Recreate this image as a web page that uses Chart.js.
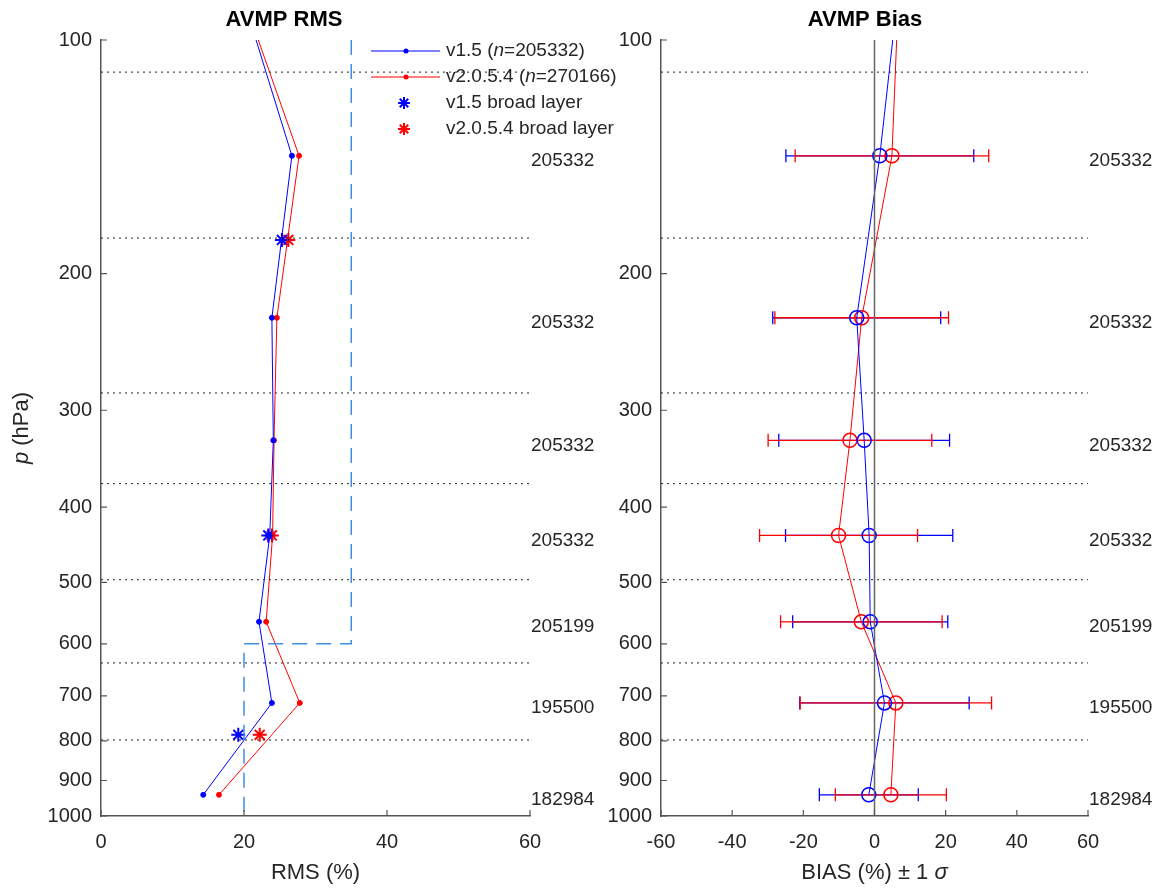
<!DOCTYPE html>
<html>
<head>
<meta charset="utf-8">
<script src="https://cdn.jsdelivr.net/npm/chart.js@4.4.1/dist/chart.umd.min.js"></script>
<style>
  body { margin: 0; background: #fff; width: 1153px; height: 892px; overflow: hidden; position: relative; }
  #rms { position: absolute; left: 0; top: 0; z-index: 2; }
  #bias { position: absolute; left: 576px; top: 0; z-index: 1; }
</style>
</head>
<body>
<canvas id="bias" width="577" height="892"></canvas>
<canvas id="rms" width="640" height="892"></canvas>
<script>
// pressure levels (hPa) of the layer points; the first one sits above the plotted range
const pLevels = [74, 141, 228, 328, 435, 562, 715, 939];
const counts = ['', '205332', '205332', '205332', '205332', '205199', '195500', '182984'];

const rmsV15 = [17.3, 26.7, 23.9, 24.1, 23.6, 22.1, 23.9, 14.3];
const rmsV2054 = [17.0, 27.7, 24.6, 24.2, 24.0, 23.1, 27.8, 16.5];

const pBroad = [181, 435, 786];
const broadV15 = [25.3, 23.4, 19.2];
const broadV2054 = [26.2, 23.9, 22.2];

const biasV15 = [8.3, 1.5, -5.0, -2.9, -1.5, -1.2, 2.8, -1.6];
const biasV2054 = [7.4, 4.9, -3.6, -6.9, -10.1, -3.7, 6.0, 4.6];
const sigmaV15 = [null, 26.4, 23.6, 24.0, 23.5, 21.8, 23.8, 13.9];
const sigmaV2054 = [null, 27.2, 24.4, 23.0, 22.2, 22.7, 26.9, 15.6];

// layer boundaries (dotted lines)
const pBounds = [110, 180, 285, 373, 496, 635, 798];

// requirement line on the RMS panel
const reqP = [100, 600, 600, 1000];
const reqX = [35, 35, 20, 20];

const yTicks = [100, 200, 300, 400, 500, 600, 700, 800, 900, 1000];

const FONT = "'Liberation Sans', Arial, sans-serif";
const TXT = '#262626';
const AXIS = '#555';
const BLUE = '#0000ff';
const RED = '#ff0000';

function pts(xs, ps) {
  return xs.map((v, i) => ({ x: v, y: ps[i] }));
}

function boundSets(xmin, xmax) {
  return pBounds.map(p => ({
    data: [{ x: xmin, y: p }, { x: xmax, y: p }],
    borderColor: '#222', borderWidth: 1, borderDash: [2, 4],
    pointRadius: 0, showLine: true
  }));
}

function scalesFor(xmin, xmax, yWidth) {
  return {
    x: {
      type: 'linear', min: xmin, max: xmax,
      ticks: { stepSize: 20, color: TXT, font: { family: FONT, size: 20 }, padding: 14 },
      grid: { drawOnChartArea: false, drawTicks: false },
      border: { color: AXIS, width: 1.5 },
      afterFit: s => { s.height = 76; }
    },
    y: {
      type: 'logarithmic', reverse: true, min: 100, max: 1000,
      afterBuildTicks: s => { s.ticks = yTicks.map(v => ({ value: v })); },
      ticks: { color: TXT, font: { family: FONT, size: 20 }, padding: 9, callback: v => String(v) },
      grid: { drawOnChartArea: false, drawTicks: false },
      border: { color: AXIS, width: 1.5 },
      afterFit: s => { s.width = yWidth; }
    }
  };
}

function drawRich(ctx, parts, x, y, size, align) {
  let w = 0;
  parts.forEach(p => { ctx.font = (p[1] ? 'italic ' : '') + size + 'px ' + FONT; w += ctx.measureText(p[0]).width; });
  let cx = align === 'center' ? x - w / 2 : x;
  ctx.textAlign = 'left';
  parts.forEach(p => {
    ctx.font = (p[1] ? 'italic ' : '') + size + 'px ' + FONT;
    ctx.fillText(p[0], cx, y);
    cx += ctx.measureText(p[0]).width;
  });
}

function decor(cfg) {
  return {
    id: 'decor_' + cfg.name,
    beforeDatasetsDraw(chart) {
      if (!cfg.errors) return;
      const { ctx, scales: { x, y } } = chart;
      ctx.save();
      ctx.lineWidth = 1.3;
      cfg.errors.forEach(e => {
        ctx.strokeStyle = e.color;
        e.bias.forEach((b, i) => {
          const s = e.sigma[i];
          if (s == null) return;
          const py = y.getPixelForValue(pLevels[i]);
          const x1 = x.getPixelForValue(b - s), x2 = x.getPixelForValue(b + s);
          ctx.beginPath();
          ctx.moveTo(x1, py); ctx.lineTo(x2, py);
          ctx.moveTo(x1, py - 6.5); ctx.lineTo(x1, py + 6.5);
          ctx.moveTo(x2, py - 6.5); ctx.lineTo(x2, py + 6.5);
          ctx.stroke();
        });
      });
      ctx.restore();
    },
    afterDraw(chart) {
      const { ctx, chartArea: a, scales: { x, y } } = chart;
      ctx.save();
      // inward ticks
      ctx.strokeStyle = AXIS; ctx.lineWidth = 1.2;
      ctx.beginPath();
      x.ticks.forEach(t => { const px = x.getPixelForValue(t.value); ctx.moveTo(px, a.bottom); ctx.lineTo(px, a.bottom - 6); });
      y.ticks.forEach(t => { const py = y.getPixelForValue(t.value); ctx.moveTo(a.left, py); ctx.lineTo(a.left + 6, py); });
      ctx.stroke();

      ctx.fillStyle = TXT;
      ctx.textBaseline = 'middle';
      // sample counts
      ctx.font = '19px ' + FONT;
      ctx.textAlign = 'left';
      counts.forEach((c, i) => {
        if (!c) return;
        ctx.fillText(c, a.right + 1, y.getPixelForValue(pLevels[i]) + 5);
      });
      // title
      ctx.font = 'bold 22px ' + FONT;
      ctx.textAlign = 'center';
      ctx.fillStyle = '#000';
      ctx.fillText(cfg.title, cfg.titleX, 20);
      // x axis title
      ctx.fillStyle = TXT;
      drawRich(ctx, cfg.xTitle, (a.left + a.right) / 2, 873, 22, 'center');
      // y axis title
      if (cfg.yTitle) {
        ctx.save();
        ctx.translate(22, (a.top + a.bottom) / 2);
        ctx.rotate(-Math.PI / 2);
        drawRich(ctx, cfg.yTitle, 0, 0, 22, 'center');
        ctx.restore();
      }
      // legend
      if (cfg.legend) {
        cfg.legend.forEach((l, i) => {
          const ly = 51 + i * 26;
          if (l.kind === 'line') {
            ctx.strokeStyle = l.color; ctx.lineWidth = 1;
            ctx.beginPath(); ctx.moveTo(371, ly); ctx.lineTo(440, ly); ctx.stroke();
            ctx.fillStyle = l.color;
            ctx.beginPath(); ctx.arc(406, ly, 2.5, 0, Math.PI * 2); ctx.fill();
          } else {
            ctx.strokeStyle = l.color; ctx.lineWidth = 2;
            const r = 6;
            ctx.beginPath();
            for (let k = 0; k < 4; k++) {
              const ang = k * Math.PI / 4;
              ctx.moveTo(404 - r * Math.cos(ang), ly - r * Math.sin(ang));
              ctx.lineTo(404 + r * Math.cos(ang), ly + r * Math.sin(ang));
            }
            ctx.stroke();
          }
          ctx.fillStyle = TXT;
          drawRich(ctx, l.text, 446, ly, 19, 'left');
        });
      }
      ctx.restore();
    }
  };
}

new Chart(document.getElementById('rms'), {
  type: 'scatter',
  data: {
    datasets: [
      ...boundSets(0, 60),
      { data: pts(reqX, reqP), showLine: true, borderColor: '#3d8ee6', borderWidth: 1.5, borderDash: [15, 9], pointRadius: 0 },
      { label: 'v1.5', data: pts(rmsV15, pLevels), showLine: true, borderColor: BLUE, backgroundColor: BLUE, borderWidth: 1, pointRadius: 2.5 },
      { label: 'v2.0.5.4', data: pts(rmsV2054, pLevels), showLine: true, borderColor: RED, backgroundColor: RED, borderWidth: 1, pointRadius: 2.5 },
      { label: 'v1.5 broad layer', data: pts(broadV15, pBroad), pointStyle: 'star', pointRadius: 7, borderColor: BLUE, borderWidth: 2 },
      { label: 'v2.0.5.4 broad layer', data: pts(broadV2054, pBroad), pointStyle: 'star', pointRadius: 7, borderColor: RED, borderWidth: 2 }
    ]
  },
  options: {
    responsive: false, animation: false,
    layout: { padding: { top: 40, right: 110, left: 0, bottom: 0 } },
    plugins: { legend: { display: false }, tooltip: { enabled: false } },
    scales: scalesFor(0, 60, 101)
  },
  plugins: [decor({
    name: 'rms', title: 'AVMP RMS', titleX: 284,
    xTitle: [['RMS (%)', false]],
    yTitle: [['p', true], [' (hPa)', false]],
    legend: [
      { kind: 'line', color: BLUE, text: [['v1.5 (', false], ['n', true], ['=205332)', false]] },
      { kind: 'line', color: RED, text: [['v2.0.5.4 (', false], ['n', true], ['=270166)', false]] },
      { kind: 'star', color: BLUE, text: [['v1.5 broad layer', false]] },
      { kind: 'star', color: RED, text: [['v2.0.5.4 broad layer', false]] }
    ]
  })]
});

new Chart(document.getElementById('bias'), {
  type: 'scatter',
  data: {
    datasets: [
      ...boundSets(-60, 60),
      { data: [{ x: 0, y: 100 }, { x: 0, y: 1000 }], showLine: true, borderColor: '#666', borderWidth: 1.5, pointRadius: 0 },
      { label: 'v1.5', data: pts(biasV15, pLevels), showLine: true, borderColor: BLUE, borderWidth: 1, pointRadius: 7, pointBorderWidth: 1.5, backgroundColor: 'rgba(0,0,0,0)' },
      { label: 'v2.0.5.4', data: pts(biasV2054, pLevels), showLine: true, borderColor: RED, borderWidth: 1, pointRadius: 7, pointBorderWidth: 1.5, backgroundColor: 'rgba(0,0,0,0)' }
    ]
  },
  options: {
    responsive: false, animation: false,
    layout: { padding: { top: 40, right: 65, left: 0, bottom: 0 } },
    plugins: { legend: { display: false }, tooltip: { enabled: false } },
    scales: scalesFor(-60, 60, 85)
  },
  plugins: [decor({
    name: 'bias', title: 'AVMP Bias', titleX: 289,
    xTitle: [['BIAS (%) \u00b1 1 ', false], ['\u03c3', true]],
    errors: [
      { color: BLUE, bias: biasV15, sigma: sigmaV15 },
      { color: RED, bias: biasV2054, sigma: sigmaV2054 }
    ]
  })]
});
</script>
</body>
</html>
